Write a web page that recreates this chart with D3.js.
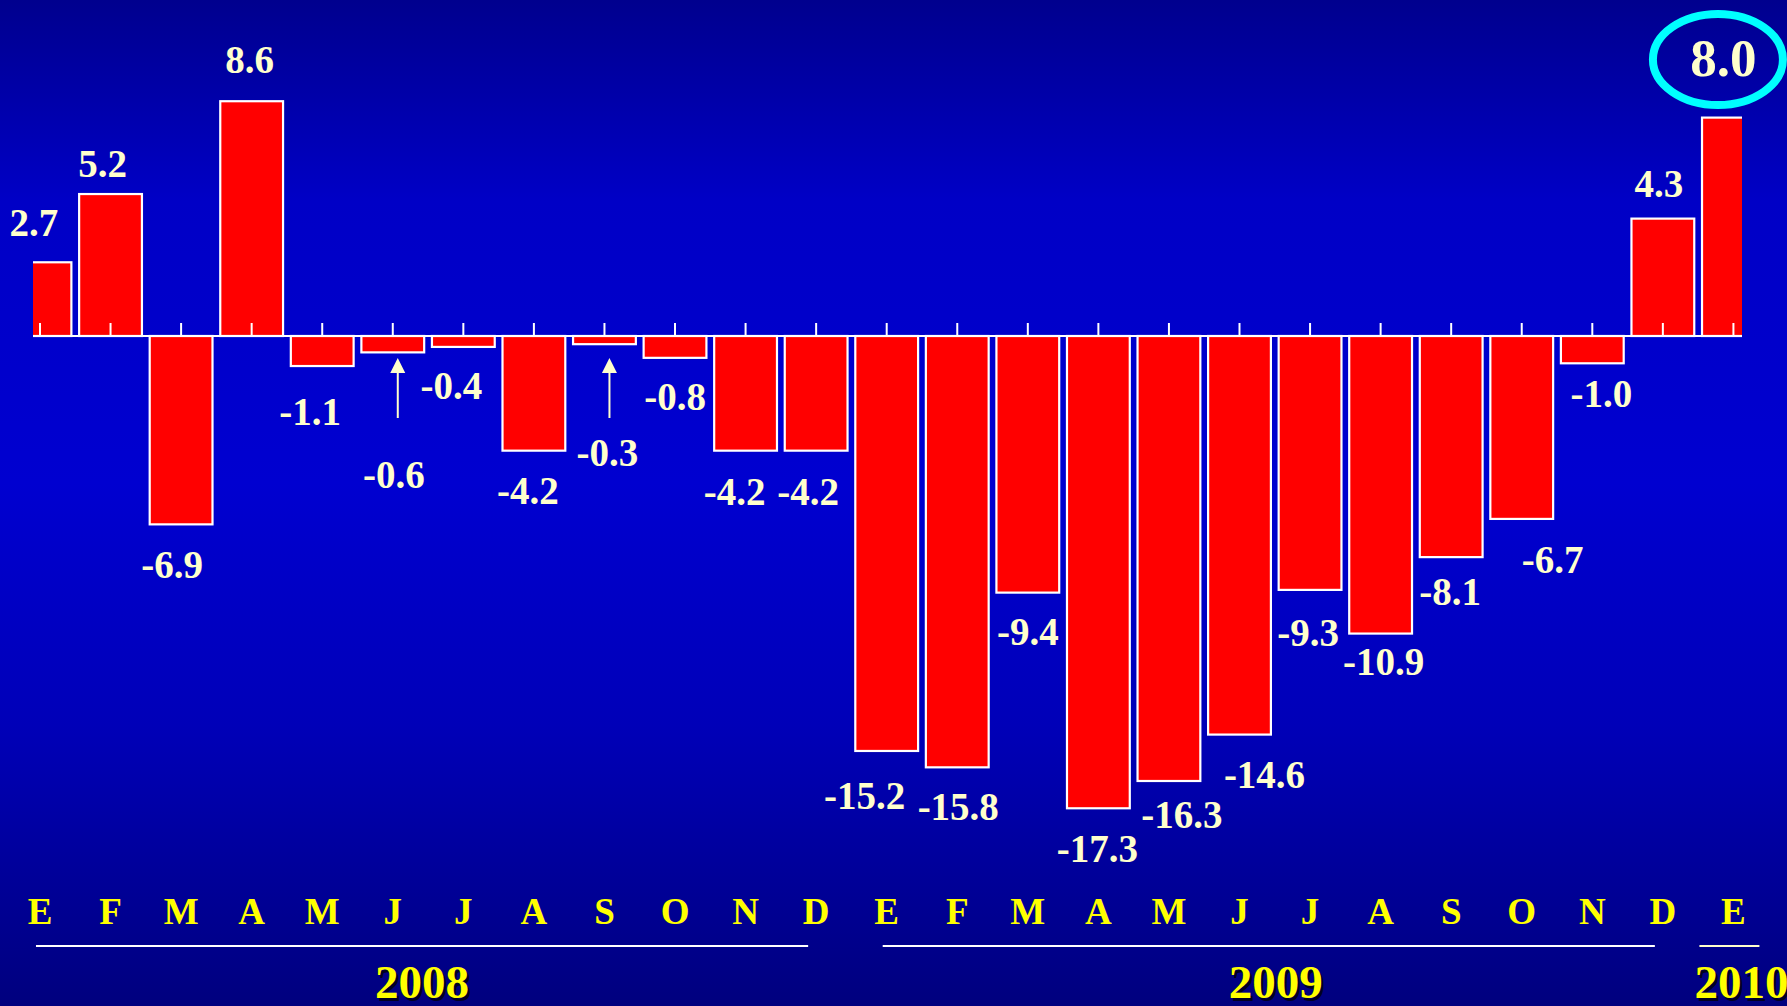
<!DOCTYPE html>
<html>
<head>
<meta charset="utf-8">
<script src="https://cdn.jsdelivr.net/npm/d3@7"></script>
<style>
  html, body { margin: 0; padding: 0; overflow: hidden; background: #0000b0; }
  svg { display: block; }
</style>
</head>
<body>
<svg id="chart" width="1787" height="1006"></svg>
<script>
// ---------------- DATA ----------------
const months = ["E","F","M","A","M","J","J","A","S","O","N","D",
                "E","F","M","A","M","J","J","A","S","O","N","D","E"];
const values = [2.7, 5.2, -6.9, 8.6, -1.1, -0.6, -0.4, -4.2, -0.3, -0.8, -4.2, -4.2,
                -15.2, -15.8, -9.4, -17.3, -16.3, -14.6, -9.3, -10.9, -8.1, -6.7, -1.0, 4.3,
                8.0];
const yearLabels = ["2008", "2009", "2010"];
const yearFirst  = [0, 12, 24];
const yearLast   = [11, 23, 24];
const arrowIdx   = [5, 8];       // bars marked with an upward arrow
const circledIdx = 24;           // highlighted value

// ---------------- LAYOUT ----------------
const W = 1787, H = 1006;
const svg = d3.select("#chart");
const FONT = "'Liberation Serif', 'Times New Roman', serif";

// label nudges [dx, dy] relative to default placement (layout only)
const labelNudge = [
  [-6,-4],[-8,5],[-9,2],[-2,-6],[-12,7],[1,84],[-12,0],[-6,1],[3,70],[0,0],[-11,2],[-8,2],
  [-22,6],[1,1],[0,0],[-1,2],[13,-5],[25,1],[-2,4],[3,-11],[-1,-4],[31,2],[9,-8],[-4,0],
  [-10,-20]
];

// background gradient
const defs = svg.append("defs");
const grad = defs.append("linearGradient").attr("id", "bg")
  .attr("x1", 0).attr("y1", 0).attr("x2", 0).attr("y2", 1);
[[0, "#00008e"], [0.2, "#0000c6"], [0.48, "#0000d0"], [0.72, "#0000b8"], [1, "#00007e"]]
  .forEach(([o, c]) => grad.append("stop").attr("offset", o).attr("stop-color", c));
svg.append("rect").attr("width", W).attr("height", H).attr("fill", "url(#bg)");

defs.append("clipPath").attr("id", "plotclip")
  .append("rect").attr("x", 33).attr("y", 0).attr("width", 1742 - 33).attr("height", H);

// scales
const x = d3.scaleBand()
  .domain(d3.range(values.length))
  .range([4.7, 4.7 + 70.56 * values.length])
  .paddingInner(0.11).paddingOuter(0.055);
const y = d3.scaleLinear().domain([-20, 10]).range([336 + 20 * 27.3, 336 - 10 * 27.3]);
const cx = i => x(i) + x.bandwidth() / 2;
const y0 = y(0);

const plot = svg.append("g").attr("clip-path", "url(#plotclip)");

// bars
plot.selectAll("rect.bar").data(values).join("rect")
  .attr("class", "bar")
  .attr("x", (d, i) => x(i))
  .attr("width", x.bandwidth())
  .attr("y", d => d >= 0 ? y(d) : y0)
  .attr("height", d => Math.abs(y(d) - y0))
  .attr("fill", "#ff0000")
  .attr("stroke", "#ffffff")
  .attr("stroke-width", 2.2);

// zero axis line and ticks (d3 axis)
const axis = d3.axisTop(x).tickSize(13).tickFormat("");
const axG = plot.append("g").attr("transform", `translate(0,${y0})`).call(axis);
axG.select(".domain").attr("stroke", "#ffffff").attr("stroke-width", 2.2)
  .attr("d", `M33,0H1742`);
axG.selectAll(".tick line").attr("stroke", "#ffffff").attr("stroke-width", 2);

// value labels
svg.append("g").selectAll("text.val").data(values).join("text")
  .attr("class", "val")
  .attr("x", (d, i) => cx(i) + labelNudge[i][0])
  .attr("y", (d, i) => (d >= 0 ? y(d) - 22 : y(d) + 52) + labelNudge[i][1])
  .attr("text-anchor", "middle")
  .attr("font-family", FONT)
  .attr("font-weight", "bold")
  .attr("font-size", (d, i) => i === circledIdx ? 53 : 39)
  .attr("fill", "#ffffcc")
  .text(d => d.toFixed(1));

// arrows
const arr = svg.append("g");
arrowIdx.forEach(i => {
  const ax = cx(i) + 5;
  arr.append("line").attr("x1", ax).attr("x2", ax)
    .attr("y1", y0 + 34).attr("y2", y0 + 82)
    .attr("stroke", "#ffffcc").attr("stroke-width", 2);
  arr.append("path")
    .attr("d", `M${ax},${y0 + 22}L${ax - 7.5},${y0 + 37}L${ax + 7.5},${y0 + 37}Z`)
    .attr("fill", "#ffffcc");
});

// highlight ellipse
svg.append("ellipse")
  .attr("cx", cx(circledIdx) - 15.5).attr("cy", 59.5)
  .attr("rx", 65).attr("ry", 45.5)
  .attr("fill", "none").attr("stroke", "#00ffff").attr("stroke-width", 8);

// month letters
svg.append("g").selectAll("text.m").data(months).join("text")
  .attr("class", "m")
  .attr("x", (d, i) => cx(i))
  .attr("y", 924)
  .attr("text-anchor", "middle")
  .attr("font-family", FONT)
  .attr("font-weight", "bold")
  .attr("font-size", 37)
  .attr("fill", "#ffff00")
  .text(d => d);

// year underlines + labels
const yearLineNudge = [[-4, -8], [-4, -8], [-34, 26]];
const yearTextNudge = [0, 7, 12];
const yg = svg.append("g");
yearLabels.forEach((lab, k) => {
  const xa = cx(yearFirst[k]) + yearLineNudge[k][0];
  const xb = cx(yearLast[k]) + yearLineNudge[k][1];
  yg.append("line").attr("x1", xa).attr("x2", xb)
    .attr("y1", 946).attr("y2", 946)
    .attr("stroke", k === 2 ? "#ffffcc" : "#ffffff").attr("stroke-width", 2.2);
  const tx = (xa + xb) / 2 + yearTextNudge[k];
  yg.append("text").attr("x", tx + 2.5).attr("y", 1000.5)
    .attr("text-anchor", "middle").attr("font-family", FONT).attr("font-weight", "bold")
    .attr("font-size", 47).attr("fill", "#000022").text(lab);
  yg.append("text").attr("x", tx).attr("y", 998)
    .attr("text-anchor", "middle").attr("font-family", FONT).attr("font-weight", "bold")
    .attr("font-size", 47).attr("fill", "#ffff00").text(lab);
});
</script>
</body>
</html>
